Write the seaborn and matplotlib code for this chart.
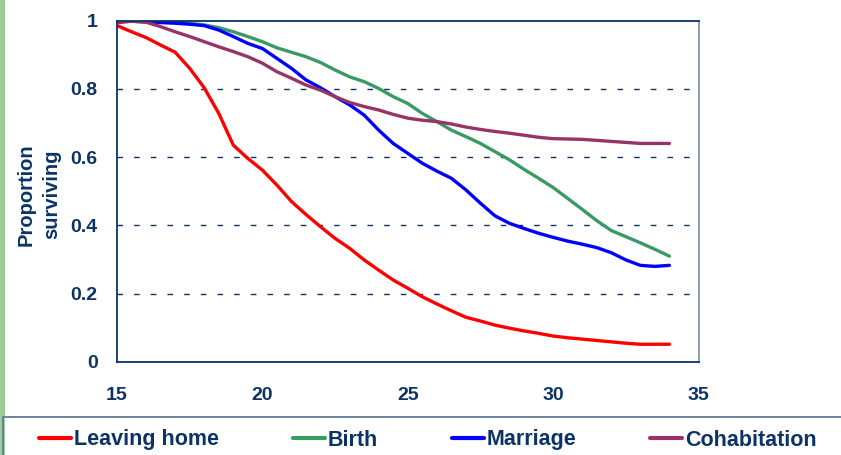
import matplotlib
matplotlib.use("Agg")
import matplotlib.pyplot as plt
import seaborn as sns
import pandas as pd
from matplotlib.patches import Rectangle
from matplotlib.lines import Line2D

ages = [15, 15.5, 16, 16.5, 17, 17.5, 18, 18.5, 19, 19.5, 20, 20.5, 21, 21.5, 22, 22.5,
        23, 23.5, 24, 24.5, 25, 25.5, 26, 26.5, 27, 27.5, 28, 28.5, 29, 29.5, 30, 30.5,
        31, 31.5, 32, 32.5, 33, 33.5, 34]
leaving_home = [0.985, 0.967, 0.950, 0.928, 0.907, 0.860, 0.803, 0.728, 0.635, 0.596,
                0.562, 0.518, 0.470, 0.432, 0.396, 0.362, 0.333, 0.299, 0.269, 0.240,
                0.216, 0.191, 0.170, 0.150, 0.131, 0.120, 0.108, 0.099, 0.091, 0.084,
                0.076, 0.071, 0.067, 0.063, 0.059, 0.055, 0.052, 0.052, 0.052]
birth = [1.0, 0.999, 0.998, 0.997, 0.995, 0.992, 0.987, 0.979, 0.967, 0.953,
         0.938, 0.920, 0.907, 0.894, 0.877, 0.855, 0.835, 0.821, 0.801, 0.777,
         0.757, 0.728, 0.704, 0.679, 0.660, 0.640, 0.616, 0.592, 0.564, 0.538,
         0.511, 0.479, 0.447, 0.414, 0.385, 0.367, 0.349, 0.330, 0.310]
marriage = [1.0, 0.998, 0.996, 0.994, 0.992, 0.989, 0.985, 0.972, 0.953, 0.933,
            0.918, 0.889, 0.860, 0.826, 0.803, 0.777, 0.753, 0.723, 0.679, 0.640,
            0.611, 0.582, 0.559, 0.538, 0.504, 0.465, 0.428, 0.406, 0.391, 0.377,
            0.365, 0.354, 0.345, 0.335, 0.320, 0.299, 0.283, 0.280, 0.283]
cohabitation = [0.993, 0.998, 0.995, 0.982, 0.967, 0.953, 0.938, 0.923, 0.909, 0.894,
                0.875, 0.850, 0.831, 0.811, 0.796, 0.777, 0.760, 0.748, 0.738, 0.725,
                0.714, 0.708, 0.704, 0.697, 0.688, 0.681, 0.675, 0.670, 0.664, 0.658,
                0.654, 0.653, 0.652, 0.649, 0.646, 0.643, 0.640, 0.640, 0.640]
series_names = ["Leaving home", "Birth", "Marriage", "Cohabitation"]
colors = ["#ff0000", "#3a9a64", "#0000ff", "#993366"]
x_ticks = [15, 20, 25, 30, 35]
y_ticks = [0, 0.2, 0.4, 0.6, 0.8, 1]
y_tick_labels = ["0", "0.2", "0.4", "0.6", "0.8", "1"]

sns.set_style("white")
plt.rcParams['font.family'] = ['Liberation Sans', 'DejaVu Sans']
navy = "#0b3366"

df = pd.DataFrame({"Age": ages * 4,
                   "Proportion": leaving_home + birth + marriage + cohabitation,
                   "Series": sum([[n] * len(ages) for n in series_names], [])})

W, H = 841, 455
fig = plt.figure(figsize=(W / 100, H / 100), dpi=100)
ax_w = 698.5 - 117
ax = fig.add_axes([117 / W, (H - 362) / H, ax_w / W, (362 - 20.5) / H])

sns.lineplot(data=df, x="Age", y="Proportion", hue="Series", hue_order=series_names,
             palette=colors, linewidth=2.4, ax=ax, legend=False)
for ln in ax.get_lines():
    ln.set_solid_joinstyle("round")
    ln.set_solid_capstyle("round")

ax.set_xlim(15, 35)
ax.set_ylim(0, 1)
ax.set_xticks(x_ticks)
ax.set_xticklabels([str(t) for t in x_ticks])
ax.set_yticks(y_ticks)
ax.set_yticklabels(y_tick_labels)
for yv in y_ticks[1:-1]:
    ax.axhline(yv, color=navy, linewidth=1.0, linestyle=(0, (4, 8)), zorder=0)

ax.tick_params(axis="both", which="both", direction="out", length=6, width=1.2,
               colors=navy, labelsize=14)
ax.tick_params(axis="x", pad=12)
ax.tick_params(axis="y", pad=8)
for lab in ax.get_xticklabels() + ax.get_yticklabels():
    lab.set_fontweight("bold")
    lab.set_color(navy)

ax.set_xlabel("")
ax.set_ylabel("Proportion\nsurviving", fontsize=14.5, fontweight="bold", color=navy,
              linespacing=1.45)
ax.yaxis.set_label_coords(-(117 - 61) / ax_w, 0.49)

for s in ["left", "bottom", "top"]:
    ax.spines[s].set_color(navy)
    ax.spines[s].set_linewidth(1.3)
ax.spines["right"].set_color("#8497b0")
ax.spines["right"].set_linewidth(1.3)

# left green strip
fig.patches.append(Rectangle((0, 0), 5 / W, 1, transform=fig.transFigure,
                             facecolor="#9ccf98", edgecolor="none", zorder=0))
# legend box
fig.patches.append(Rectangle((3 / W, -0.1), 1, (H - 417.3) / H + 0.1,
                             transform=fig.transFigure, facecolor="none",
                             edgecolor="#5f7a9a", linewidth=1.3, zorder=1))

handles = [Line2D([0], [0], color=c, linewidth=3) for c in colors]
leg = fig.legend(handles, series_names, loc="center", ncol=4,
                 bbox_to_anchor=(428 / W, (H - 440) / H), frameon=False,
                 handlelength=1.5, handletextpad=0.15, columnspacing=3.4,
                 prop={"size": 15.5, "weight": "bold"})
for t in leg.get_texts():
    t.set_color(navy)

fig.savefig("out.png", dpi=100)
